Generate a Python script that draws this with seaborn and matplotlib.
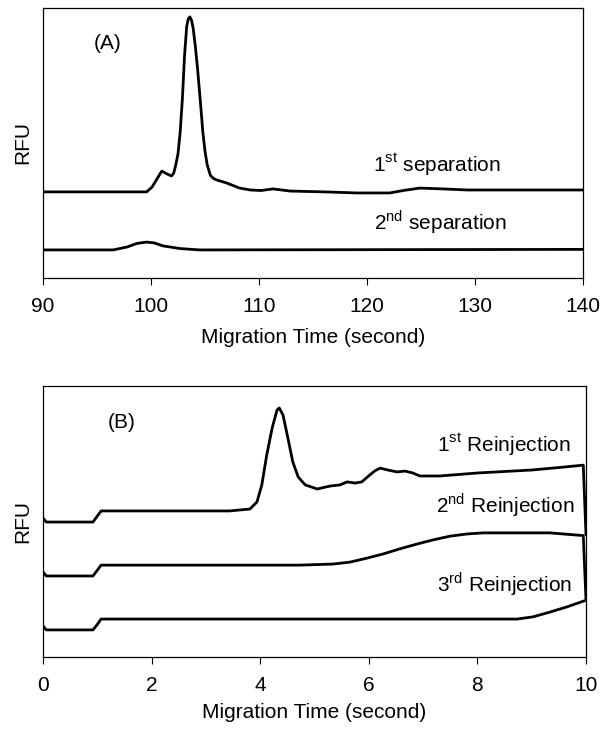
import matplotlib
matplotlib.use("Agg")
import matplotlib.pyplot as plt
import seaborn as sns
import pandas as pd

# ---------------- data ----------------
# Panel A: migration time (s) vs RFU (arbitrary, offset traces)
sep1_t = [90, 95, 99.6, 100.1, 100.6, 101.0, 101.5, 101.9, 102.1, 102.3, 102.5, 102.7,
          102.9, 103.1, 103.3, 103.45, 103.6, 103.75, 103.9, 104.1, 104.3, 104.6, 104.8,
          105.0, 105.2, 105.5, 105.8, 106.1, 107.0, 108.2, 109.2, 110.2, 111.3, 112.9,
          116.0, 119.1, 122.1, 123.5, 124.9, 127.0, 129.3, 135.0, 140.0]
sep1_v = [31.9, 31.9, 31.9, 33.7, 37.0, 39.6, 38.5, 37.8, 38.8, 42.0, 46.0, 54.0,
          66.0, 82.0, 93.0, 96.0, 96.7, 95.5, 92.6, 86.0, 78.0, 64.0, 54.0,
          47.0, 42.0, 38.0, 36.8, 36.3, 35.2, 33.3, 32.6, 32.4, 33.0, 32.2,
          31.9, 31.5, 31.5, 32.5, 33.3, 33.0, 32.6, 32.6, 32.6]
sep2_t = [90, 96.5, 97.8, 98.7, 99.6, 100.3, 101.1, 102.7, 104.5, 140]
sep2_v = [10.4, 10.4, 11.5, 12.8, 13.3, 13.0, 11.9, 10.9, 10.4, 10.6]

# Panel B: reinjections
rein1_t = [0, 0.06, 0.92, 1.0, 1.07, 3.44, 3.81, 3.94, 4.03, 4.12, 4.22, 4.31, 4.35,
           4.42, 4.51, 4.6, 4.7, 4.83, 5.05, 5.29, 5.47, 5.6, 5.75, 5.87, 6.02, 6.12,
           6.21, 6.35, 6.52, 6.67, 6.81, 6.94, 7.31, 8.0, 9.0, 9.6, 9.95, 10.0]
rein1_v = [51.3, 49.8, 49.8, 52.0, 53.9, 53.9, 54.6, 57.2, 63.5, 74.5, 84.5, 91.1, 91.9,
           89.3, 80.8, 72.0, 66.4, 63.5, 62.0, 63.1, 63.5, 64.6, 64.2, 64.6, 67.2, 68.8,
           69.7, 69.0, 68.3, 68.6, 67.9, 66.8, 66.8, 67.9, 69.0, 70.1, 70.8, 45.0]
rein2_t = [0, 0.06, 0.92, 1.0, 1.07, 4.73, 5.34, 5.65, 5.97, 6.26, 6.57, 6.89, 7.18,
           7.5, 7.81, 8.1, 8.73, 9.34, 9.83, 9.95, 10.0]
rein2_v = [31.4, 29.9, 29.9, 32.0, 33.9, 33.9, 34.3, 35.0, 36.5, 38.0, 39.9, 41.7, 43.2,
           44.6, 45.4, 45.8, 45.8, 45.8, 45.0, 44.8, 21.0]
rein3_t = [0, 0.06, 0.92, 1.0, 1.07, 8.73, 9.02, 9.34, 9.65, 9.98]
rein3_v = [11.5, 10.0, 10.0, 12.0, 14.0, 14.0, 14.8, 16.6, 18.5, 20.8]

xticks_a = [90, 100, 110, 120, 130, 140]
xticks_b = [0, 2, 4, 6, 8, 10]

labels_a = [r"1$^{\mathrm{st}}$ separation", r"2$^{\mathrm{nd}}$ separation"]
labels_b = [r"1$^{\mathrm{st}}$ Reinjection", r"2$^{\mathrm{nd}}$ Reinjection",
            r"3$^{\mathrm{rd}}$ Reinjection"]

# ---------------- style ----------------
sns.set_theme(style="ticks")
plt.rcParams["font.family"] = ["Liberation Sans", "DejaVu Sans"]
plt.rcParams["mathtext.fontset"] = "custom"
plt.rcParams["mathtext.rm"] = "Liberation Sans"
plt.rcParams["axes.edgecolor"] = "black"
plt.rcParams["axes.linewidth"] = 0.9
plt.rcParams["text.color"] = "black"
plt.rcParams["axes.labelcolor"] = "black"
plt.rcParams["xtick.color"] = "black"
plt.rcParams["xtick.labelcolor"] = "black"

FS = 15
W, H = 605, 736
fig = plt.figure(figsize=(W / 100, H / 100), dpi=100)

def px_axes(l, t, r, b):
    return fig.add_axes([l / W, 1 - b / H, (r - l) / W, (b - t) / H])

axA = px_axes(43, 8, 583, 278)
axB = px_axes(43, 386, 586, 657)

def trace(ax, t, v):
    df = pd.DataFrame({"t": t, "v": v})
    sns.lineplot(data=df, x="t", y="v", ax=ax, color="black", lw=2.0,
                 estimator=None, sort=False)

trace(axA, sep1_t, sep1_v)
trace(axA, sep2_t, sep2_v)
trace(axB, rein1_t, rein1_v)
trace(axB, rein2_t, rein2_v)
trace(axB, rein3_t, rein3_v)

for ax, xt, lp in [(axA, xticks_a, 8.0), (axB, xticks_b, 5.5)]:
    ax.set_xlim(xt[0], xt[-1])
    ax.set_ylim(0, 100)
    ax.set_xticks(xt)
    ax.set_xticklabels([str(x) for x in xt])
    ax.set_yticks([])
    ax.tick_params(axis="x", direction="out", length=5, width=0.8, pad=9,
                   labelsize=FS, colors="black")
    ax.set_xlabel("Migration Time (second)", fontsize=FS, labelpad=lp, color="black")
    ax.set_ylabel("RFU", fontsize=FS, color="black")
    ax.yaxis.set_label_coords(-0.02, 0.5)
    for s in ax.spines.values():
        s.set_visible(True)
        s.set_linewidth(0.9)
        s.set_color("black")

axA.text(0.120, 0.870, "(A)", transform=axA.transAxes, fontsize=FS,
         ha="center", va="center", color="black")
axA.text(0.730, 0.393, labels_a[0], transform=axA.transAxes, fontsize=FS,
         ha="center", va="baseline", color="black")
axA.text(0.735, 0.178, labels_a[1], transform=axA.transAxes, fontsize=FS,
         ha="center", va="baseline", color="black")

axB.text(0.144, 0.867, "(B)", transform=axB.transAxes, fontsize=FS,
         ha="center", va="center", color="black")
axB.text(0.848, 0.756, labels_b[0], transform=axB.transAxes, fontsize=FS,
         ha="center", va="baseline", color="black")
axB.text(0.851, 0.535, labels_b[1], transform=axB.transAxes, fontsize=FS,
         ha="center", va="baseline", color="black")
axB.text(0.850, 0.240, labels_b[2], transform=axB.transAxes, fontsize=FS,
         ha="center", va="baseline", color="black")

fig.savefig("out.png", dpi=100)
